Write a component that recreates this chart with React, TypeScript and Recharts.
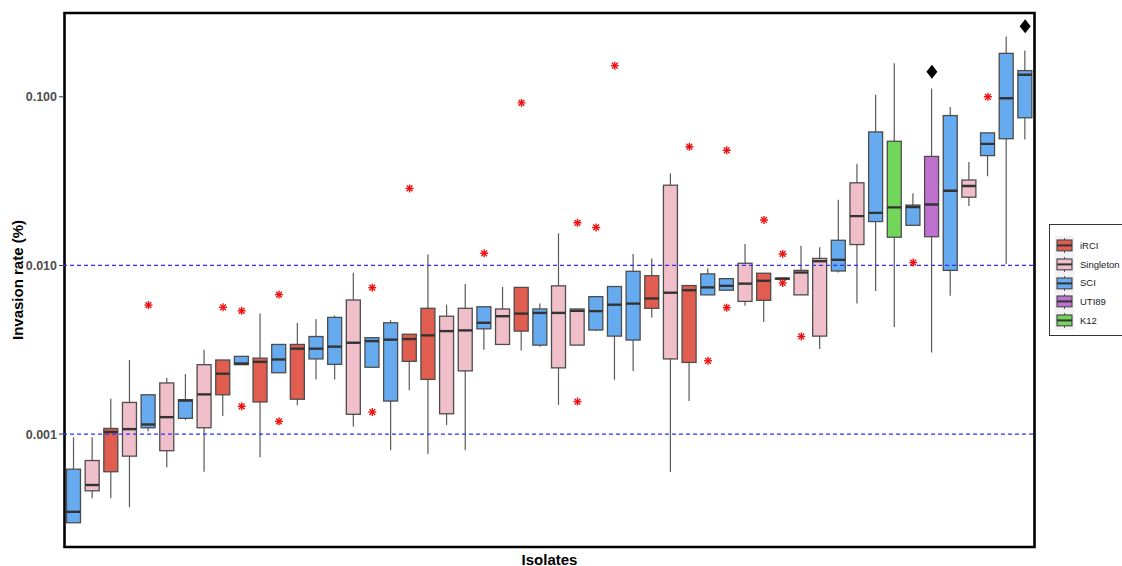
import React from "react";
import {
  ComposedChart,
  Bar,
  Scatter,
  XAxis,
  YAxis,
  ReferenceLine,
  ReferenceArea,
  Label
} from "recharts";

// isolates in plotted order (left to right)
const isolates = [
  "I01", "I02", "I03", "I04", "I05", "I06", "I07", "I08", "I09", "I10",
  "I11", "I12", "I13", "I14", "I15", "I16", "I17", "I18", "I19", "I20",
  "I21", "I22", "I23", "I24", "I25", "I26", "I27", "I28", "I29", "I30",
  "I31", "I32", "I33", "I34", "I35", "I36", "I37", "I38", "I39", "I40",
  "I41", "I42", "I43", "I44", "I45", "I46", "I47", "I48", "I49", "I50",
  "I51", "I52"
];

const groups = [
  "SCI", "Singleton", "iRCI", "Singleton", "SCI", "Singleton", "SCI", "Singleton", "iRCI", "SCI",
  "iRCI", "SCI", "iRCI", "SCI", "SCI", "Singleton", "SCI", "SCI", "iRCI", "iRCI",
  "Singleton", "Singleton", "SCI", "Singleton", "iRCI", "SCI", "Singleton", "Singleton", "SCI", "SCI",
  "SCI", "iRCI", "Singleton", "iRCI", "SCI", "SCI", "Singleton", "iRCI", "SCI", "Singleton",
  "Singleton", "SCI", "Singleton", "SCI", "K12", "SCI", "UTI89", "SCI", "Singleton", "SCI",
  "SCI", "SCI"
];

const whiskerLow = [
  0.000298, 0.000417, 0.000417, 0.000369, 0.00104, 0.000635, 0.00121, 0.000598, 0.00128, 0.00258,
  0.000729, 0.00231, 0.00148, 0.00211, 0.00211, 0.00111, 0.00249, 0.000801, 0.00182, 0.000762,
  0.00113, 0.000801, 0.00316, 0.0034, 0.00313, 0.00329, 0.00149, 0.00337, 0.00408, 0.0021,
  0.00237, 0.00492, 0.000596, 0.00157, 0.00669, 0.00713, 0.00577, 0.00462, 0.0083, 0.00669,
  0.00319, 0.00908, 0.00594, 0.00706, 0.00431, 0.0173, 0.00305, 0.00662, 0.0225, 0.0338,
  0.0102, 0.0558
];

const q1 = [
  0.000298, 0.000461, 0.000598, 0.00074, 0.00109, 0.000797, 0.00124, 0.00109, 0.00171, 0.00258,
  0.00155, 0.00231, 0.00161, 0.00279, 0.00259, 0.00131, 0.00249, 0.00157, 0.0027, 0.00211,
  0.00132, 0.00237, 0.00421, 0.0034, 0.00408, 0.00337, 0.00247, 0.00337, 0.00414, 0.00381,
  0.00361, 0.00557, 0.00279, 0.00266, 0.00669, 0.00713, 0.00612, 0.00621, 0.0083, 0.00669,
  0.00381, 0.00927, 0.0133, 0.0182, 0.0147, 0.0173, 0.0148, 0.00935, 0.0254, 0.0448,
  0.0564, 0.0751
];

const medians = [
  0.000346, 0.000499, 0.00103, 0.00107, 0.00114, 0.00126, 0.00158, 0.00172, 0.00228, 0.00262,
  0.00268, 0.00277, 0.00321, 0.00321, 0.0033, 0.00348, 0.00356, 0.00363, 0.00366, 0.00385,
  0.00408, 0.00412, 0.00457, 0.005, 0.00518, 0.00523, 0.00523, 0.00538, 0.00536, 0.00585,
  0.00594, 0.00637, 0.00689, 0.00713, 0.00741, 0.00757, 0.0078, 0.00811, 0.00835, 0.00908,
  0.0106, 0.0108, 0.0196, 0.0205, 0.0221, 0.0222, 0.023, 0.0277, 0.0296, 0.0526,
  0.0981, 0.135
];

const q3 = [
  0.000619, 0.000697, 0.00108, 0.00154, 0.00171, 0.00201, 0.0016, 0.00258, 0.00275, 0.00289,
  0.00282, 0.0034, 0.0034, 0.00379, 0.00492, 0.00624, 0.00373, 0.00457, 0.00391, 0.00557,
  0.005, 0.00557, 0.00569, 0.00552, 0.00741, 0.00552, 0.00757, 0.00552, 0.00653, 0.0075,
  0.00923, 0.00869, 0.0299, 0.0076, 0.00891, 0.00835, 0.0103, 0.00899, 0.0084, 0.00935,
  0.011, 0.0141, 0.0309, 0.0619, 0.0545, 0.0228, 0.0443, 0.0774, 0.0321, 0.0611,
  0.181, 0.143
];

const whiskerHigh = [
  0.000957, 0.000957, 0.00162, 0.00275, 0.00171, 0.00215, 0.00227, 0.00316, 0.00275, 0.00289,
  0.00518, 0.0034, 0.00455, 0.00481, 0.00505, 0.00904, 0.00373, 0.00473, 0.00391, 0.0116,
  0.00585, 0.00776, 0.00569, 0.00745, 0.00741, 0.00594, 0.0155, 0.00552, 0.00653, 0.0075,
  0.0117, 0.011, 0.0351, 0.0076, 0.00959, 0.00835, 0.0134, 0.00899, 0.0084, 0.0131,
  0.0128, 0.0245, 0.0401, 0.103, 0.158, 0.0268, 0.112, 0.0871, 0.0411, 0.0611,
  0.228, 0.188
];

// outliers: [isolate, value]
const outliers: [string, number][] = [
  ["I05", 0.00582], ["I09", 0.00565], ["I10", 0.00538], ["I10", 0.00146],
  ["I12", 0.00672], ["I12", 0.00119], ["I17", 0.00738], ["I17", 0.00135],
  ["I19", 0.0286], ["I23", 0.0118], ["I25", 0.092], ["I28", 0.0179],
  ["I28", 0.00156], ["I29", 0.0168], ["I30", 0.153], ["I34", 0.0506],
  ["I35", 0.00272], ["I36", 0.0482], ["I36", 0.00562], ["I38", 0.0186],
  ["I39", 0.0117], ["I39", 0.00787], ["I40", 0.00379], ["I46", 0.0104],
  ["I50", 0.1]
];

// black diamond markers
const markers: [string, number][] = [
  ["I47", 0.141],
  ["I52", 0.262]
];

const legendGroups = ["iRCI", "Singleton", "SCI", "UTI89", "K12"];
const yTicks = [0.001, 0.01, 0.1];
const thresholds = [0.001, 0.01];
const Y_MIN = 0.000214;
const Y_MAX = 0.314;

const COLORS: Record<string, string> = {
  iRCI: "#E05D50",
  Singleton: "#F0BFCA",
  SCI: "#66AAF0",
  UTI89: "#BF71CF",
  K12: "#72D65A"
};

const rows = isolates.map((id, i) => {
  const outs = outliers.filter((o) => o[0] === id).map((o) => o[1]);
  const mk = markers.find((m) => m[0] === id);
  return {
    id,
    group: groups[i],
    whisker: [whiskerLow[i], whiskerHigh[i]],
    box: [q1[i], q3[i]],
    med: [medians[i], medians[i]],
    out1: outs.length > 0 ? outs[0] : null,
    out2: outs.length > 1 ? outs[1] : null,
    mark: mk ? mk[1] : null
  };
});

const WhiskerShape = (props: any) => {
  const { x, y, width, height } = props;
  const cx = x + width / 2;
  return (
    <line x1={cx} x2={cx} y1={y} y2={y + height} stroke="#5a5a5a" strokeWidth={1.2} />
  );
};

const BoxShape = (props: any) => {
  const { x, y, width, height, payload } = props;
  const top = Math.min(y, y + height);
  return (
    <rect
      x={x}
      y={top}
      width={width}
      height={Math.abs(height)}
      fill={COLORS[payload.group]}
      stroke="#4D4D4D"
      strokeWidth={1.3}
    />
  );
};

const MedianShape = (props: any) => {
  const { x, y, width } = props;
  return <line x1={x} x2={x + width} y1={y} y2={y} stroke="#333" strokeWidth={2.4} />;
};

const Star = (props: any) => {
  const { cx, cy } = props;
  if (!Number.isFinite(cx) || !Number.isFinite(cy)) return <g />;
  const r = 4;
  const d = r * 0.72;
  return (
    <g stroke="#EE1111" strokeWidth={1.4}>
      <line x1={cx - r} x2={cx + r} y1={cy} y2={cy} />
      <line x1={cx} x2={cx} y1={cy - r} y2={cy + r} />
      <line x1={cx - d} x2={cx + d} y1={cy - d} y2={cy + d} />
      <line x1={cx - d} x2={cx + d} y1={cy + d} y2={cy - d} />
    </g>
  );
};

const Diamond = (props: any) => {
  const { cx, cy } = props;
  if (!Number.isFinite(cx) || !Number.isFinite(cy)) return <g />;
  return (
    <polygon
      points={`${cx},${cy - 7} ${cx + 5.5},${cy} ${cx},${cy + 7} ${cx - 5.5},${cy}`}
      fill="#000"
    />
  );
};

const YTitle = (props: any) => {
  const { viewBox } = props;
  const x = viewBox.x + 17;
  const y = viewBox.y + viewBox.height / 2;
  return (
    <text
      x={x}
      y={y}
      transform={`rotate(-90, ${x}, ${y})`}
      textAnchor="middle"
      dominantBaseline="central"
      fontSize={15}
      fontWeight="bold"
      fill="#000"
    >
      Invasion rate (%)
    </text>
  );
};

const BoxLegend = () => (
  <div
    style={{
      position: "absolute",
      left: 1049,
      top: 224,
      width: 95,
      height: 112,
      border: "1.3px solid #333",
      boxSizing: "border-box",
      paddingTop: 11,
      paddingLeft: 5,
      fontFamily: "'Liberation Sans', Arial, sans-serif",
      fontSize: 9.5,
      color: "#1a1a1a"
    }}
  >
    {legendGroups.map((g) => (
      <div key={g} style={{ display: "flex", alignItems: "center", height: 18.8 }}>
        <svg width={19} height={18.8} style={{ background: "#F2F2F2", display: "block" }}>
          <line x1={9.5} x2={9.5} y1={2} y2={17} stroke="#5a5a5a" strokeWidth={1} />
          <rect x={2} y={4} width={15} height={10.8} fill={COLORS[g]} stroke="#4D4D4D" strokeWidth={1.2} />
          <line x1={2} x2={17} y1={9.4} y2={9.4} stroke="#333" strokeWidth={2} />
        </svg>
        <span style={{ marginLeft: 6 }}>{g}</span>
      </div>
    ))}
  </div>
);

const pad = { left: 1.5, right: 1.5 };

export default function App() {
  return (
    <div
      style={{
        position: "absolute",
        left: 0,
        top: 0,
        width: 1122,
        height: 566,
        overflow: "hidden",
        background: "#fff",
        fontFamily: "'Liberation Sans', Arial, sans-serif"
      }}
    >
      <ComposedChart
        width={1122}
        height={566}
        data={rows}
        margin={{ top: 13, right: 86, bottom: 19, left: 0 }}
      >
        <XAxis dataKey="id" hide padding={pad} />
        <XAxis xAxisId="whisk" dataKey="id" hide padding={pad} />
        <XAxis xAxisId="box" dataKey="id" hide padding={pad} />
        <XAxis xAxisId="med" dataKey="id" hide padding={pad} />
        <YAxis
          type="number"
          scale="log"
          domain={[Y_MIN, Y_MAX]}
          allowDataOverflow
          ticks={yTicks}
          tickFormatter={(v: number) => v.toFixed(3)}
          width={63}
          axisLine={false}
          tickSize={4}
          tickLine={{ stroke: "#333", strokeWidth: 1 }}
          tick={{ fill: "#4D4D4D", fontSize: 12.5, fontWeight: "bold" }}
        >
          <Label content={YTitle} />
        </YAxis>
        <Bar xAxisId="whisk" dataKey="whisker" barSize={14} shape={WhiskerShape} isAnimationActive={false} />
        <Bar xAxisId="box" dataKey="box" barSize={14} shape={BoxShape} isAnimationActive={false} />
        <Bar xAxisId="med" dataKey="med" barSize={14} shape={MedianShape} isAnimationActive={false} />
        {thresholds.map((v) => (
          <ReferenceLine
            key={`t${v}`}
            y={v}
            stroke="#2F2FFF"
            strokeWidth={1.3}
            strokeDasharray="4 3"
          />
        ))}
        <Scatter dataKey="out1" shape={Star} isAnimationActive={false} />
        <Scatter dataKey="out2" shape={Star} isAnimationActive={false} />
        <Scatter dataKey="mark" shape={Diamond} isAnimationActive={false} />
        <ReferenceArea y1={Y_MIN} y2={Y_MAX} fill="none" stroke="#000" strokeWidth={2.6} ifOverflow="visible" />
      </ComposedChart>
      <div
        style={{
          position: "absolute",
          left: 63,
          width: 973,
          top: 551,
          textAlign: "center",
          fontSize: 15,
          fontWeight: "bold",
          color: "#000",
          lineHeight: "17px"
        }}
      >
        Isolates
      </div>
      <BoxLegend />
    </div>
  );
}
